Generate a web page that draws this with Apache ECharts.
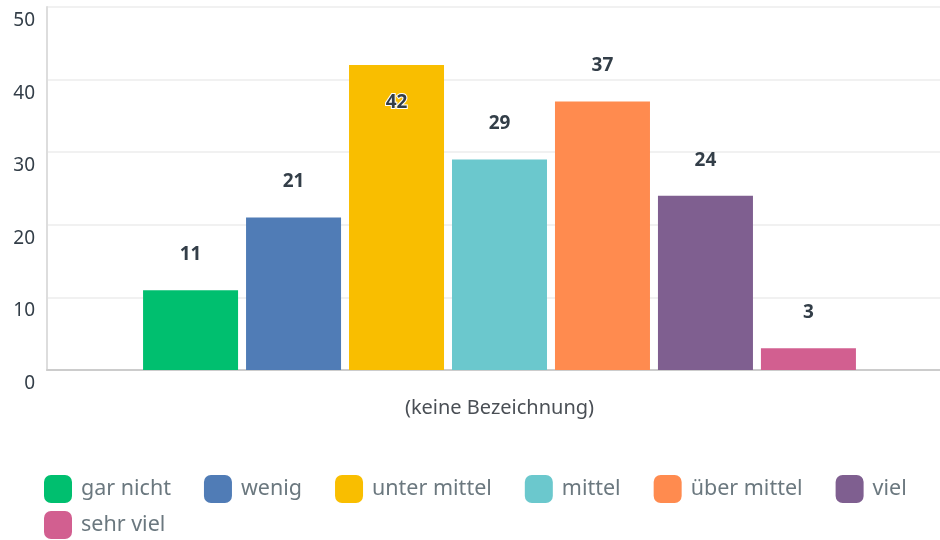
<!DOCTYPE html>
<html>
<head>
<meta charset="utf-8">
<script src="https://cdn.jsdelivr.net/npm/echarts@6/dist/echarts.min.js"></script>
<style>
  html, body { margin: 0; padding: 0; background: #fff; }
  #chart { width: 940px; height: 540px; }
</style>
</head>
<body>
<div id="chart"></div>
<script>
// Daten
var categories = ['(keine Bezeichnung)'];
var seriesNames = ['gar nicht', 'wenig', 'unter mittel', 'mittel', 'über mittel', 'viel', 'sehr viel'];
var seriesValues = [11, 21, 42, 29, 37, 24, 3];
var yTicks = [0, 10, 20, 30, 40, 50];

// Farben
var palette = ['#00bf6f', '#507cb6', '#f9be00', '#6bc8cd', '#ff8b4f', '#7f5f90', '#d25f90'];

(function() {
    var myChart = echarts.init(document.getElementById('chart'));
    var font = '"Noto Sans", sans-serif';

    var series = seriesNames.map(function(name, i) {
        var inside = seriesValues[i] === 42; // Label passt nicht oben drüber -> in den Balken
        return {
            name: name,
            type: 'bar',
            barWidth: 95,
            barGap: '8.4%',
            itemStyle: { color: palette[i] },
            label: {
                show: true,
                position: inside ? 'insideTop' : 'top',
                distance: inside ? 28 : 26,
                fontFamily: font,
                fontSize: 19,
                fontWeight: 'bold',
                color: '#333e48',
                textBorderColor: inside ? '#fff' : 'transparent',
                textBorderWidth: inside ? 2 : 0
            },
            data: [seriesValues[i]]
        };
    });

    // Legende in zwei Zeilen (enger Zeilenabstand, weiter Spaltenabstand)
    var legendBase = {
        left: 44,
        padding: 0,
        icon: 'roundRect',
        itemWidth: 28,
        itemHeight: 28,
        itemGap: 33,
        textStyle: {
            fontFamily: font,
            fontSize: 21.5,
            color: '#6b787f',
            padding: [5, 0, 0, 4]
        }
    };

    var option = {
        animation: false,
        color: palette,
        grid: {
            left: 47,
            top: 7,
            right: -12,
            bottom: 170,
            outerBoundsMode: 'none',
            containLabel: false
        },
        legend: [
            Object.assign({}, legendBase, { top: 475, data: seriesNames.slice(0, 6) }),
            Object.assign({}, legendBase, { top: 511, data: seriesNames.slice(6) })
        ],
        xAxis: {
            type: 'category',
            data: categories,
            axisTick: { show: false },
            axisLine: { lineStyle: { color: '#cccccc', width: 2 } },
            axisLabel: {
                margin: 28,
                fontFamily: font,
                fontSize: 20,
                color: '#4a4f55'
            }
        },
        yAxis: {
            type: 'value',
            min: yTicks[0],
            max: yTicks[yTicks.length - 1],
            interval: 10,
            axisLine: { show: true, lineStyle: { color: '#dddddd', width: 2 } },
            axisTick: { show: false },
            splitLine: { lineStyle: { color: '#ececec', width: 1.5 } },
            axisLabel: {
                margin: 12,
                verticalAlign: 'top',
                padding: [4, 0, 0, 0],
                fontFamily: font,
                fontSize: 19,
                color: '#333e48'
            }
        },
        series: series
    };
    myChart.setOption(option);
})();
</script>
</body>
</html>
